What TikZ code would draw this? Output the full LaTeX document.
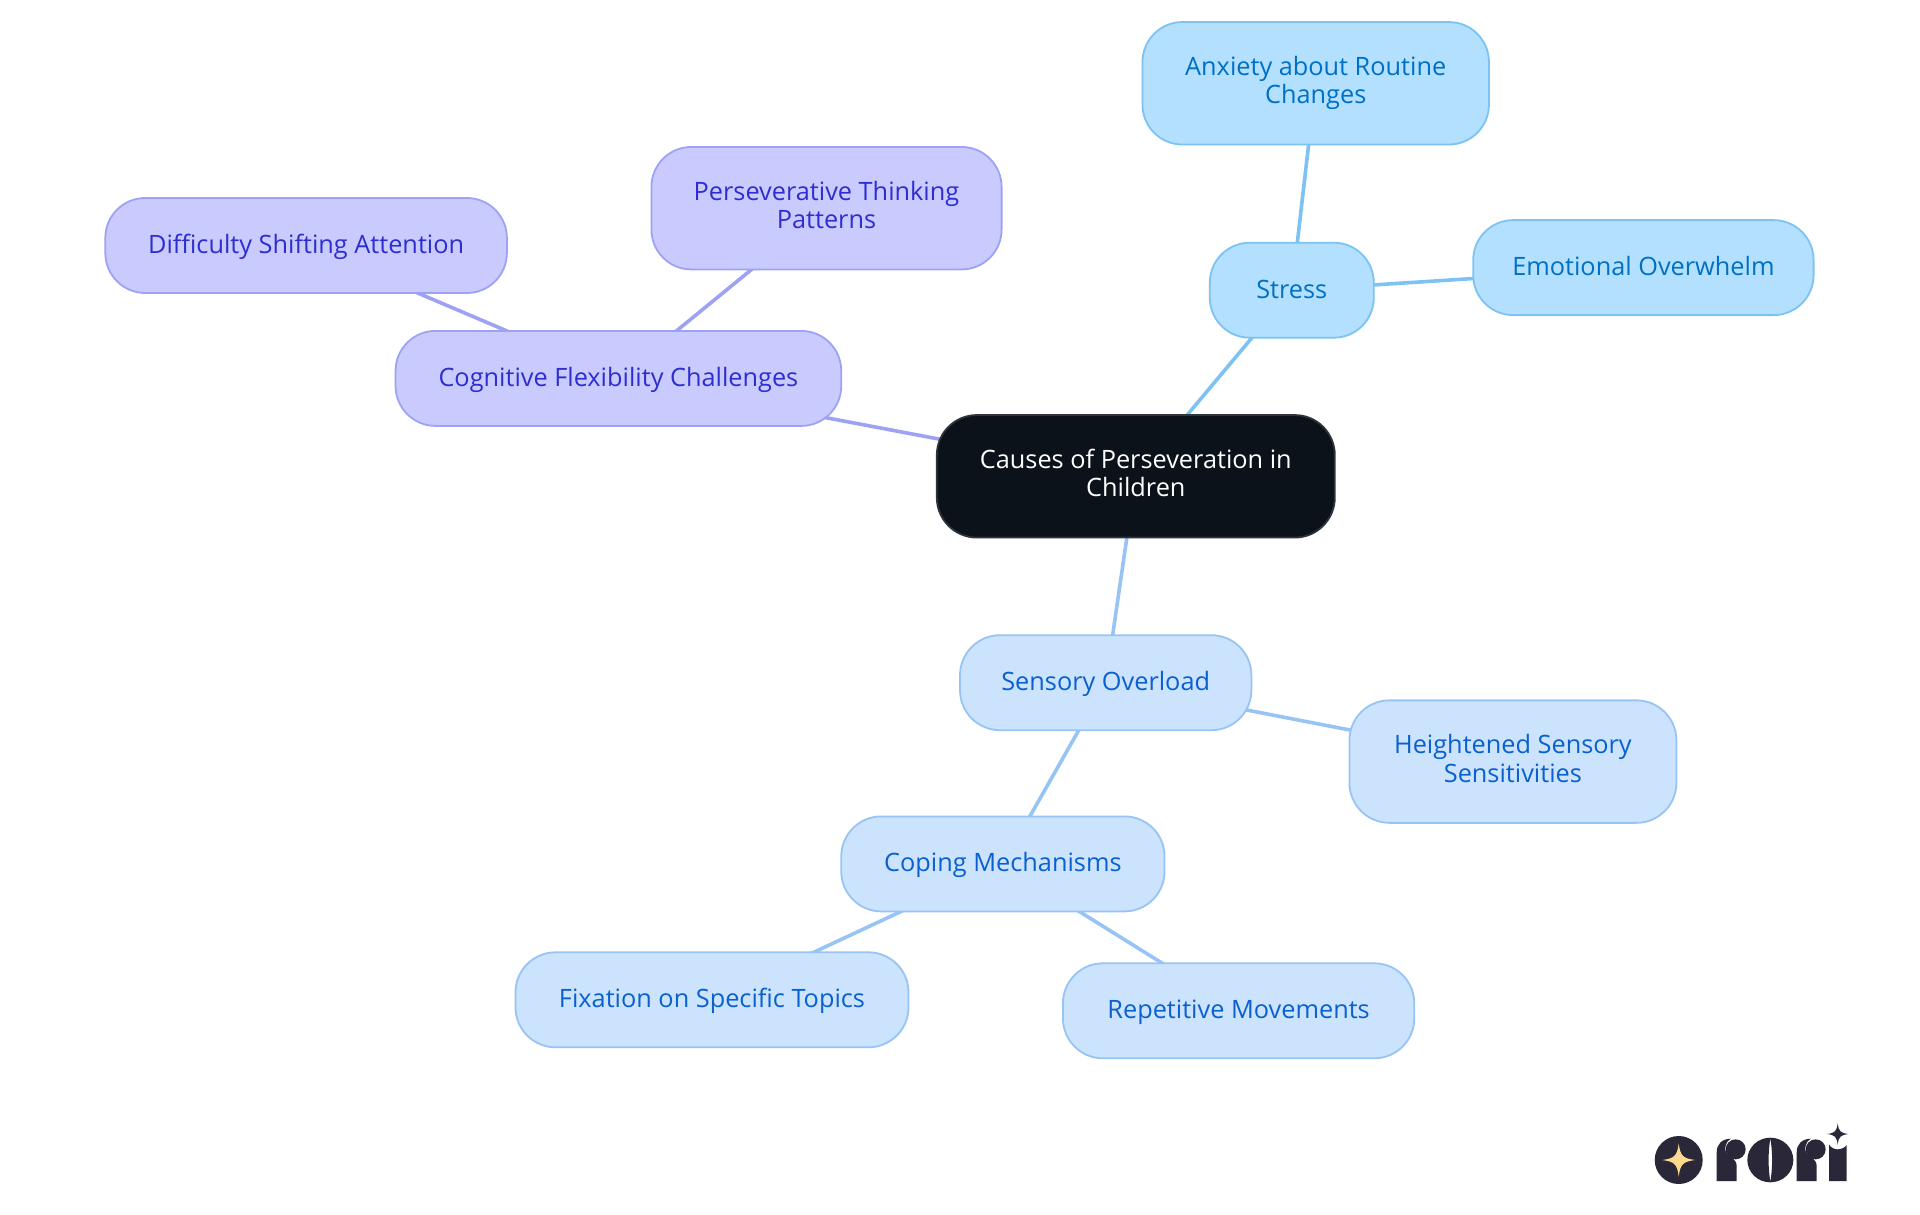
\documentclass[tikz,border=0pt]{standalone}
\usepackage{fontspec}
\setmainfont{Open Sans}
\usetikzlibrary{backgrounds}
\definecolor{rootfill}{HTML}{0B121A}
\definecolor{rootline}{HTML}{2F343A}
\definecolor{stressfill}{HTML}{B3E0FF}
\definecolor{stressline}{HTML}{7CC3F3}
\definecolor{stresstext}{HTML}{0070C4}
\definecolor{cognfill}{HTML}{C9CBFF}
\definecolor{cognline}{HTML}{9EA2F4}
\definecolor{cogntext}{HTML}{2E2ED0}
\definecolor{sensfill}{HTML}{CCE3FD}
\definecolor{sensline}{HTML}{97C4F4}
\definecolor{senstext}{HTML}{0A60CE}
\definecolor{logodark}{HTML}{2A2838}
\definecolor{logostar}{HTML}{FBD98E}
\newcommand{\mapstrut}{\rule[-6.4pt]{0pt}{28.8pt}}
\tikzset{
mapnode/.style={rectangle, rounded corners=40, line width=1.8, inner sep=0,
  align=center, font=\fontsize{25.3}{28.2}\selectfont,
  execute at begin node=\mapstrut, execute at end node=\mapstrut},
twolines/.style={minimum height=122.5, execute at begin node=\rule{0pt}{26pt}},
rootnode/.style={mapnode, draw=rootline, fill=rootfill, text=white},
stressnode/.style={mapnode, draw=stressline, fill=stressfill, text=stresstext},
cognnode/.style={mapnode, draw=cognline, fill=cognfill, text=cogntext},
sensnode/.style={mapnode, draw=sensline, fill=sensfill, text=senstext},
mapedge/.style={line width=3.6},
fourstar/.pic={
  \fill[pic actions] (0,-1) .. controls (0.1,-0.25) and (0.25,-0.1) .. (1,0)
    .. controls (0.25,0.1) and (0.1,0.25) .. (0,1)
    .. controls (-0.1,0.25) and (-0.25,0.1) .. (-1,0)
    .. controls (-0.25,-0.1) and (-0.1,-0.25) .. (0,-1) -- cycle;
  },
logor/.pic={
  \fill[pic actions] (50,198) -- (50,112) .. controls (50,88) and (65,72) .. (92,71)
    .. controls (76,80) and (70,105) .. (82,118) .. controls (92,130) and (110,130) .. (110,155)
    -- (110,198) -- cycle;
  \fill[pic actions] (107,103) circle [radius=30];
  }
}
\begin{document}
\begin{tikzpicture}[x=1pt,y=-1pt]
\useasboundingbox (0,0) rectangle (1920,1215);

\node[rootnode, twolines, minimum width=398] (root) at (1135.8,476.3) {Causes of Perseveration in\\Children};

\node[stressnode, minimum width=164, minimum height=95] (stress) at (1291.8,290.2) {Stress};
\node[stressnode, twolines, minimum width=346.5] (anxiety) at (1315.7,83.3) {Anxiety about Routine\\Changes};
\node[stressnode, minimum width=340.4, minimum height=95] (overwhelm) at (1643.4,267.6) {Emotional Overwhelm};

\node[cognnode, minimum width=445.7, minimum height=95] (cognitive) at (618.4,378.4) {Cognitive Flexibility Challenges};
\node[cognnode, twolines, minimum width=350.2] (thinking) at (826.5,208.2) {Perseverative Thinking\\Patterns};
\node[cognnode, minimum width=401.6, minimum height=95] (shifting) at (306.1,245.5) {Difficulty Shifting Attention};

\node[sensnode, minimum width=291.4, minimum height=95] (sensory) at (1105.7,682.7) {Sensory Overload};
\node[sensnode, twolines, minimum width=327] (heightened) at (1512.9,761.6) {Heightened Sensory\\Sensitivities};
\node[sensnode, minimum width=323.3, minimum height=95] (coping) at (1002.9,863.9) {Coping Mechanisms};
\node[sensnode, minimum width=393, minimum height=95] (fixation) at (712,999.8) {Fixation on Specific Topics};
\node[sensnode, minimum width=351.4, minimum height=95] (repetitive) at (1238.6,1010.8) {Repetitive Movements};

\begin{scope}[on background layer]
\draw[mapedge, stressline] (root.center) -- (stress.center);
\draw[mapedge, stressline] (stress.center) -- (anxiety.center);
\draw[mapedge, stressline] (stress.center) -- (overwhelm.center);
\draw[mapedge, cognline] (root.center) -- (cognitive.center);
\draw[mapedge, cognline] (cognitive.center) -- (thinking.center);
\draw[mapedge, cognline] (cognitive.center) -- (shifting.center);
\draw[mapedge, sensline] (root.center) -- (sensory.center);
\draw[mapedge, sensline] (sensory.center) -- (heightened.center);
\draw[mapedge, sensline] (sensory.center) -- (coping.center);
\draw[mapedge, sensline] (coping.center) -- (fixation.center);
\draw[mapedge, sensline] (coping.center) -- (repetitive.center);
\end{scope}

% logo
\fill[logodark] (1678.7,1160) circle [radius=24];
\pic[logostar, scale=16.5] at (1678.7,1160) {fourstar};
\pic[logodark, scale=1/3] at (1700,1115) {logor};
\pic[logodark, scale=1/3] at (1780,1115) {logor};
\pic[logodark, scale=10.7] at (1837.7,1134) {fourstar};
\begin{scope}[shift={(1700,1115)}, scale=1/3]
\fill[logodark, even odd rule] (211,135) ellipse [x radius=69, y radius=67]
  (211,70) .. controls (204,110) and (204,160) .. (211,200) .. controls (218,160) and (218,110) .. (211,70) -- cycle;
\fill[logodark] (387,198) -- (387,88) .. controls (392,98) and (403,103) .. (413,103)
  .. controls (423,103) and (435,98) .. (440,90) -- (440,198) -- cycle;
\end{scope}
\end{tikzpicture}
\end{document}
